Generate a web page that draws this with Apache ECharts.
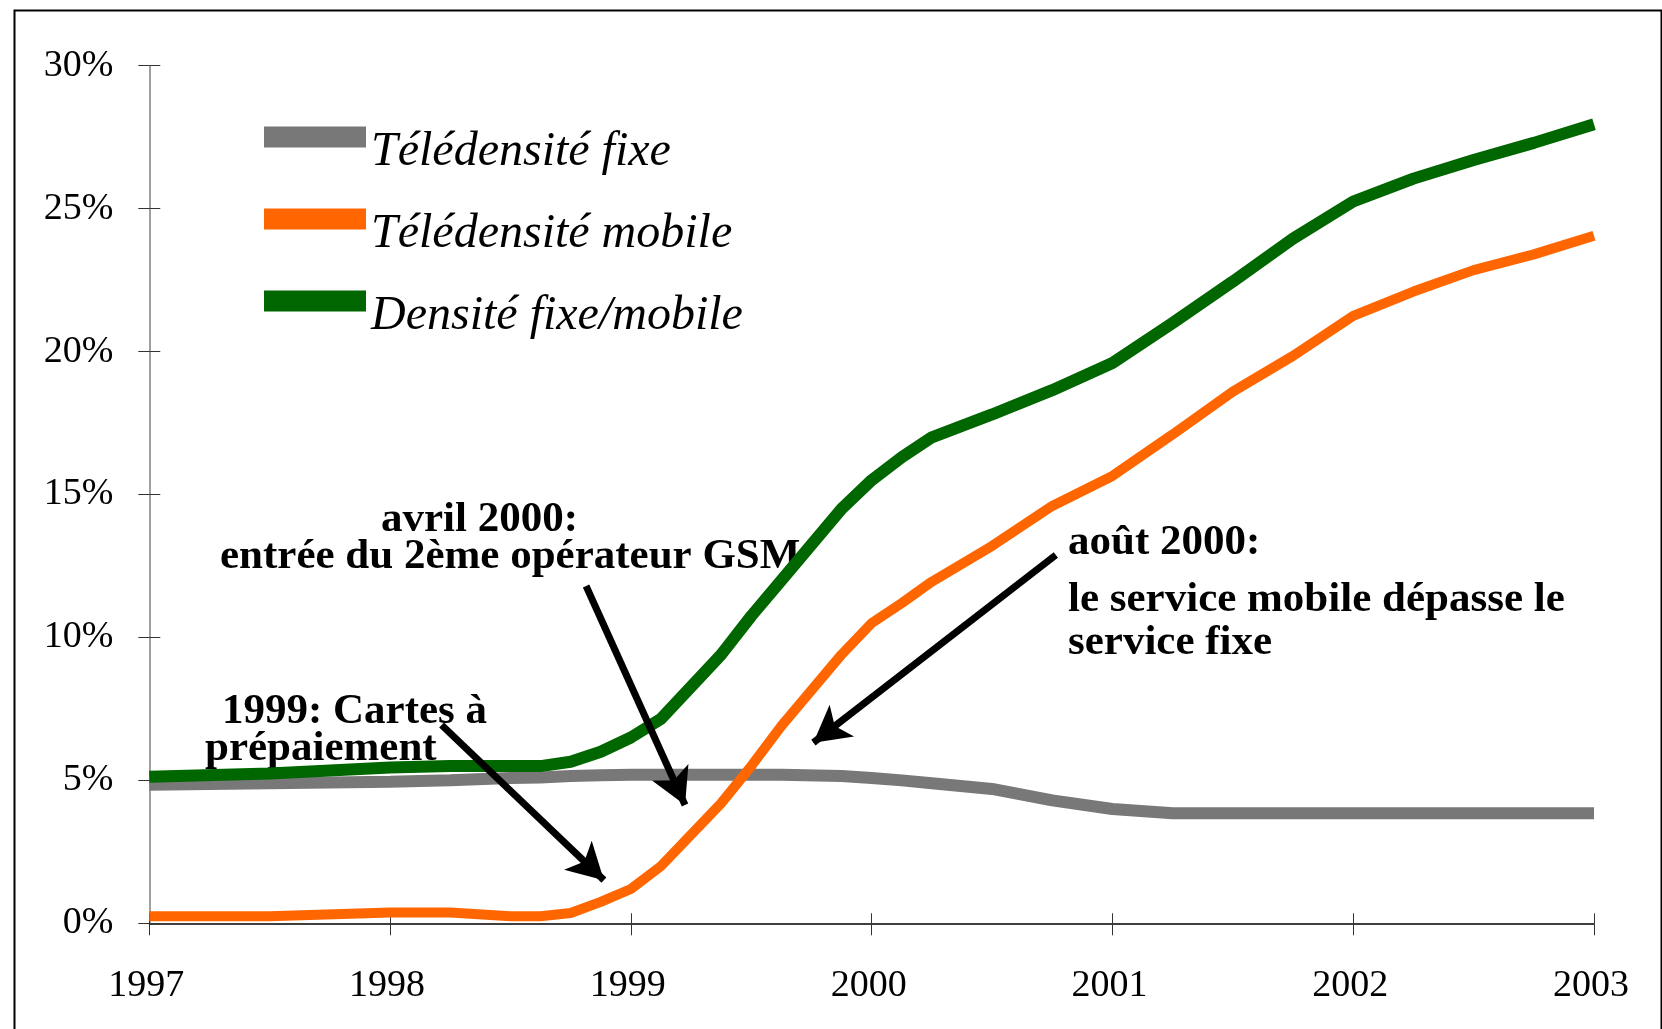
<!DOCTYPE html>
<html>
<head>
<meta charset="utf-8">
<title>Télédensité</title>
<script src="https://cdn.jsdelivr.net/npm/echarts@6/dist/echarts.min.js"></script>
<style>
  html, body { margin: 0; padding: 0; background: #fff; }
  #chart { width: 1662px; height: 1029px; }
</style>
</head>
<body>
<div id="chart"></div>
<script>
// periodes (annee decimale) et valeurs en %
const periods = [1997, 1997.5, 1998, 1998.25, 1998.5, 1998.625, 1998.75, 1998.875,
  1999, 1999.125, 1999.375, 1999.5, 1999.625, 1999.875,
  2000, 2000.125, 2000.25, 2000.5, 2000.75,
  2001, 2001.25, 2001.5, 2001.75, 2002, 2002.25, 2002.5, 2002.75, 2003]
const fixe = [4.85, 4.9, 4.95, 5.0, 5.08, 5.1, 5.15, 5.18,
  5.2, 5.2, 5.2, 5.2, 5.2, 5.15,
  5.08, 5.0, 4.9, 4.7, 4.3,
  4.0, 3.85, 3.85, 3.85, 3.85, 3.85, 3.85, 3.85, 3.85]
const mobile = [0.25, 0.25, 0.38, 0.38, 0.25, 0.25, 0.36, 0.75,
  1.2, 2.0, 4.2, 5.5, 6.9, 9.4,
  10.5, 11.2, 11.95, 13.2, 14.6,
  15.65, 17.1, 18.6, 19.85, 21.25, 22.1, 22.85, 23.4, 24.05]
const total = [5.13, 5.24, 5.45, 5.5, 5.5, 5.5, 5.65, 6.0,
  6.5, 7.15, 9.4, 10.75, 12.0, 14.5,
  15.5, 16.3, 17.0, 17.8, 18.65,
  19.6, 21.0, 22.45, 23.95, 25.25, 26.05, 26.7, 27.3, 27.95]
const seriesNames = ['Télédensité fixe', 'Télédensité mobile', 'Densité fixe/mobile']
const yTicks = [0, 5, 10, 15, 20, 25, 30]
// fleches des annotations : [debut, pointe] en coordonnees du graphique
const arrows = [
  [[1998.814, 11.8], [1999.225, 4.14]],
  [[1998.214, 6.94], [1998.888, 1.51]],
  [[2000.765, 12.88], [1999.758, 6.32]]
]

const serif = "'Liberation Serif', 'Times New Roman', serif"
const pairs = vals => periods.map((p, i) => [p, vals[i]])

const chart = echarts.init(document.getElementById('chart'))

const xBase = {
  type: 'value', min: 1997, max: 2003, interval: 1,
  position: 'bottom', splitLine: { show: false }
}
const yBase = {
  type: 'value', min: yTicks[0], max: yTicks[yTicks.length - 1], interval: 5,
  position: 'left', splitLine: { show: false }
}

function note(text, x, y) {
  return {
    type: 'text', left: x, top: y - 21,
    style: { text, font: 'bold 43px ' + serif, fill: '#000' }
  }
}

chart.setOption({
  animation: false,
  color: ['#787878', '#FF6600', '#006600'],
  grid: { left: 149.3, right: 68, top: 65.7, bottom: 105.7 },
  legend: {
    data: seriesNames,
    orient: 'vertical',
    left: 264, top: 98,
    padding: 0,
    icon: 'rect',
    itemWidth: 102, itemHeight: 21,
    itemGap: 4, itemTextGap: 20,
    itemStyle: { borderWidth: 0 },
    formatter: name => '{t|' + name + '}',
    textStyle: {
      rich: {
        t: {
          fontFamily: serif, fontStyle: 'italic', fontSize: 48,
          lineHeight: 48, padding: [30, 0, 0, 0], color: '#000'
        }
      }
    }
  },
  xAxis: [
    Object.assign({}, xBase, {
      axisLine: { lineStyle: { color: '#000', width: 1.5 } },
      axisTick: { length: 12, lineStyle: { color: '#333' } },
      axisLabel: {
        margin: 44, fontFamily: serif, fontSize: 38, color: '#000',
        padding: [0, 6, 0, 0],
        formatter: v => String(v)
      }
    }),
    Object.assign({}, xBase, {
      axisLine: { show: false },
      axisTick: { inside: true, length: 10, lineStyle: { color: '#333' } },
      axisLabel: { show: false }
    })
  ],
  yAxis: [
    Object.assign({}, yBase, {
      axisLine: { show: true, lineStyle: { color: '#808080', width: 1.5 } },
      axisTick: { show: true, length: 11, lineStyle: { color: '#333' } },
      axisLabel: { margin: 36, fontFamily: serif, fontSize: 38, color: '#000', formatter: '{value}%' }
    }),
    Object.assign({}, yBase, {
      axisLine: { show: false },
      axisTick: { show: true, inside: true, length: 11, lineStyle: { color: '#333' } },
      axisLabel: { show: false }
    })
  ],
  series: [
    {
      name: seriesNames[0], type: 'line', symbol: 'none',
      lineStyle: { width: 12 }, data: pairs(fixe),
      markLine: {
        silent: true, animation: false,
        symbol: ['none', 'arrow'], symbolSize: [30, 36],
        label: { show: false },
        lineStyle: { color: '#000', width: 7, type: 'solid' },
        data: arrows.map(a => [{ coord: a[0] }, { coord: a[1] }])
      }
    },
    {
      name: seriesNames[1], type: 'line', symbol: 'none',
      lineStyle: { width: 10 }, data: pairs(mobile)
    },
    {
      name: seriesNames[2], type: 'line', symbol: 'none',
      lineStyle: { width: 12 }, data: pairs(total)
    }
  ],
  graphic: [
    {
      type: 'rect', left: 12, top: 8, z: 100,
      shape: { width: 1647, height: 1030 },
      style: { fill: 'none', stroke: '#000', lineWidth: 2 }
    },
    note('avril 2000:', 381, 519),
    note('entrée du 2ème opérateur GSM', 220, 556),
    note('1999: Cartes à', 222, 711),
    note('prépaiement', 205, 748),
    note('août 2000:', 1068, 542),
    note('le service mobile dépasse le', 1068, 599),
    note('service fixe', 1068, 642)
  ]
})
</script>
</body>
</html>
